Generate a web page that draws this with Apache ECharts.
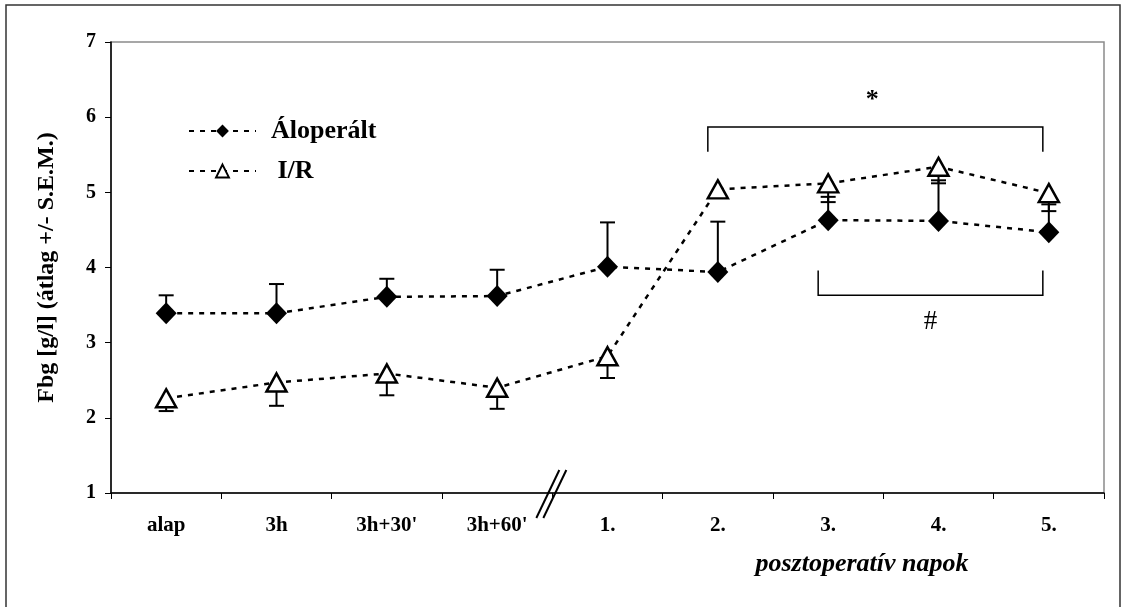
<!DOCTYPE html>
<html>
<head>
<meta charset="utf-8">
<script src="https://cdn.jsdelivr.net/npm/echarts@6/dist/echarts.min.js"></script>
<style>html,body{margin:0;padding:0;background:#fff;}#c{width:1123px;height:607px;}</style>
</head>
<body>
<div id="c"></div>
<script>
const categories = ['alap', '3h', "3h+30'", "3h+60'", '1.', '2.', '3.', '4.', '5.'];
const shamValues = [3.39, 3.39, 3.61, 3.62, 4.01, 3.94, 4.63, 4.62, 4.47];
const shamErrTop = [3.63, 3.78, 3.85, 3.97, 4.60, 4.61, 4.94, 5.16, 4.84];
const irValues = [2.26, 2.47, 2.59, 2.40, 2.82, 5.04, 5.12, 5.34, 4.99];
const irErrBottom = [2.09, 2.16, 2.30, 2.12, 2.53, null, 4.87, 5.12, 4.75];
const yTicks = [1, 2, 3, 4, 5, 6, 7];
// significance brackets: [startIndex, endIndex, lineY, endY, label, labelY]
const brackets = [
  [5, 8, 5.87, 5.54, '*', 6.22],
  [6, 8, 3.63, 3.96, '#', 3.28]
];

const FONT = '"Liberation Serif", "Times New Roman", serif';

const errData = [];
shamValues.forEach((v, i) => { if (shamErrTop[i] != null) errData.push([i, v, shamErrTop[i]]); });
irValues.forEach((v, i) => { if (irErrBottom[i] != null) errData.push([i, v, irErrBottom[i]]); });

const chart = echarts.init(document.getElementById('c'), null, {renderer: 'canvas'});

const option = {
  animation: false,
  backgroundColor: '#fff',
  grid: {left: 111, top: 42, right: 19, bottom: 114, show: true, borderColor: '#8a8a8a', borderWidth: 1.5, backgroundColor: 'transparent'},
  legend: {
    data: ['Áloperált', 'I/R'],
    orient: 'vertical',
    left: 183, top: 113,
    itemWidth: 67, itemHeight: 16, itemGap: 14,
    formatter: function (n) { return n === 'I/R' ? ' I/R' : n; },
    textStyle: {fontFamily: FONT, fontWeight: 'bold', fontSize: 26, lineHeight: 26, color: '#000', padding: [0, 0, 0, 10]}
  },
  xAxis: {
    type: 'category',
    data: categories,
    boundaryGap: true,
    axisLine: {lineStyle: {color: '#000', width: 1.5}},
    axisTick: {show: true, length: 6, lineStyle: {color: '#000', width: 1}},
    axisLabel: {fontFamily: FONT, fontWeight: 'bold', fontSize: 21, color: '#000', margin: 22},
    splitLine: {show: false}
  },
  yAxis: {
    type: 'value',
    min: yTicks[0], max: yTicks[yTicks.length - 1], interval: 1,
    axisLine: {show: true, lineStyle: {color: '#000', width: 1.5}},
    axisTick: {show: true, length: 6, lineStyle: {color: '#000', width: 1}},
    axisLabel: {fontFamily: FONT, fontWeight: 'bold', fontSize: 20, color: '#000', margin: 15},
    splitLine: {show: false},
    name: 'Fbg [g/l] (átlag +/- S.E.M.)',
    nameLocation: 'middle',
    nameGap: 52,
    nameTextStyle: {fontFamily: FONT, fontWeight: 'bold', fontSize: 24, color: '#000'}
  },
  series: [
    {
      type: 'custom',
      name: 'err',
      z: 1,
      data: errData,
      renderItem: function (params, api) {
        const x = api.value(0);
        const p0 = api.coord([x, api.value(1)]);
        const p1 = api.coord([x, api.value(2)]);
        const st = {stroke: '#000', lineWidth: 2};
        return {
          type: 'group',
          children: [
            {type: 'line', shape: {x1: p0[0], y1: p0[1], x2: p1[0], y2: p1[1]}, style: st},
            {type: 'line', shape: {x1: p1[0] - 7.5, y1: p1[1], x2: p1[0] + 7.5, y2: p1[1]}, style: st}
          ]
        };
      }
    },
    {
      type: 'custom',
      name: 'brackets',
      z: 1,
      data: brackets,
      renderItem: function (params, api) {
        const a = api.coord([api.value(0), api.value(2)]);
        const b = api.coord([api.value(1), api.value(2)]);
        const ae = api.coord([api.value(0), api.value(3)]);
        const lab = api.coord([api.value(0), api.value(5)]);
        const xl = a[0] - 10, xr = b[0] - 6;
        const st = {stroke: '#000', lineWidth: 1.5, fill: null};
        const isStar = params.dataIndex === 0;
        return {
          type: 'group',
          children: [
            {type: 'polyline', shape: {points: [[xl, ae[1]], [xl, a[1]], [xr, a[1]], [xr, ae[1]]]}, style: st},
            {type: 'text', style: {
              text: brackets[params.dataIndex][4],
              x: (xl + xr) / 2 - (isStar ? 3 : 0), y: lab[1],
              align: 'center', verticalAlign: 'middle',
              font: (isStar ? 'bold 26px ' : '27px ') + FONT, fill: '#000'
            }}
          ]
        };
      }
    },
    {
      name: 'Áloperált',
      type: 'line',
      z: 3,
      data: shamValues,
      symbol: 'diamond',
      symbolSize: [21, 22],
      itemStyle: {color: '#000', borderColor: '#000', borderWidth: 0},
      lineStyle: {color: '#000', width: 2.5, type: [5, 6]}
    },
    {
      name: 'I/R',
      type: 'line',
      z: 3,
      data: irValues,
      symbol: 'triangle',
      symbolSize: [20, 18],
      showAllSymbol: true,
      itemStyle: {color: '#fff', borderColor: '#000', borderWidth: 2.5},
      lineStyle: {color: '#000', width: 2.5, type: [5, 6]}
    }
  ]
};
chart.setOption(option);

// axis break marks between the 4th and 5th category
const pA = chart.convertToPixel({xAxisIndex: 0, yAxisIndex: 0}, [3, yTicks[0]]);
const pB = chart.convertToPixel({xAxisIndex: 0, yAxisIndex: 0}, [4, yTicks[0]]);
const bx = (pA[0] + pB[0]) / 2, by = pA[1];
chart.setOption({
  graphic: [
    {type: 'rect', shape: {x: 6, y: 5, width: 1114, height: 610}, style: {fill: null, stroke: '#333', lineWidth: 1.5}, z: 0, silent: true},
    {type: 'text', style: {text: 'posztoperatív napok', font: 'italic bold 26px ' + FONT, fill: '#000', x: 862, y: 564, align: 'center', verticalAlign: 'middle'}},
    {type: 'line', shape: {x1: bx - 16, y1: by + 25, x2: bx + 7, y2: by - 23}, style: {stroke: '#000', lineWidth: 2}, z: 10},
    {type: 'line', shape: {x1: bx - 9, y1: by + 25, x2: bx + 14, y2: by - 23}, style: {stroke: '#000', lineWidth: 2}, z: 10}
  ]
});
</script>
</body>
</html>
